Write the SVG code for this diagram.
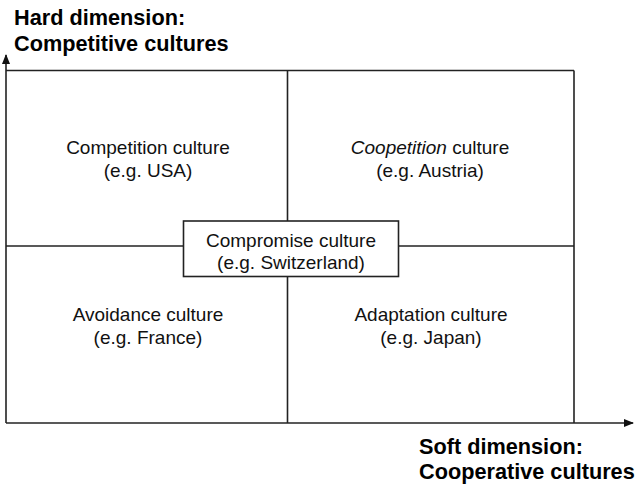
<svg xmlns="http://www.w3.org/2000/svg" width="635" height="486" viewBox="0 0 635 486">
  <style>
    .ln { stroke: #222; stroke-width: 1.6; fill: none; }
    .lbl { font-family: "Liberation Sans", Arial, sans-serif; font-size: 19px; fill: #111; text-anchor: middle; }
    .axis { font-family: "Liberation Sans", Arial, sans-serif; font-size: 21.7px; font-weight: bold; fill: #000; }
  </style>
  <defs>
    <marker id="arrow" viewBox="0 0 10 10" refX="9" refY="5" markerWidth="10" markerHeight="10" markerUnits="userSpaceOnUse" orient="auto">
      <path d="M0,1 L10,5 L0,9 Z" fill="#111"/>
    </marker>
  </defs>

  <!-- axes and grid lines -->
  <g id="connectors">
    <line class="ln" x1="6" y1="423" x2="6" y2="55" marker-end="url(#arrow)"/>
    <line class="ln" x1="6" y1="423" x2="633" y2="423" marker-end="url(#arrow)"/>
    <line class="ln" x1="6" y1="70.5" x2="574" y2="70.5"/>
    <line class="ln" x1="574" y1="70.5" x2="574" y2="423"/>
    <line class="ln" x1="287.5" y1="70.5" x2="287.5" y2="423"/>
    <line class="ln" x1="6" y1="246" x2="574" y2="246"/>
  </g>

  <g id="axis-hard">
    <text class="axis" x="14" y="25">Hard dimension:</text>
    <text class="axis" x="14" y="51">Competitive cultures</text>
  </g>
  <g id="axis-soft">
    <text class="axis" x="419" y="454">Soft dimension:</text>
    <text class="axis" x="419" y="479">Cooperative cultures</text>
  </g>

  <g id="competition">
    <text class="lbl" x="148" y="154">Competition culture</text>
    <text class="lbl" x="148" y="177">(e.g. USA)</text>
  </g>
  <g id="coopetition">
    <text class="lbl" x="430" y="154"><tspan font-style="italic">Coopetition</tspan> culture</text>
    <text class="lbl" x="430" y="177">(e.g. Austria)</text>
  </g>
  <g id="avoidance">
    <text class="lbl" x="148" y="321">Avoidance culture</text>
    <text class="lbl" x="148" y="344">(e.g. France)</text>
  </g>
  <g id="adaptation">
    <text class="lbl" x="431" y="321">Adaptation culture</text>
    <text class="lbl" x="431" y="344">(e.g. Japan)</text>
  </g>
  <g id="compromise">
    <rect x="183.5" y="221" width="215" height="55.5" fill="#fff" stroke="#222" stroke-width="1.6"/>
    <text class="lbl" x="291" y="247">Compromise culture</text>
    <text class="lbl" x="291" y="269">(e.g. Switzerland)</text>
  </g>
</svg>
